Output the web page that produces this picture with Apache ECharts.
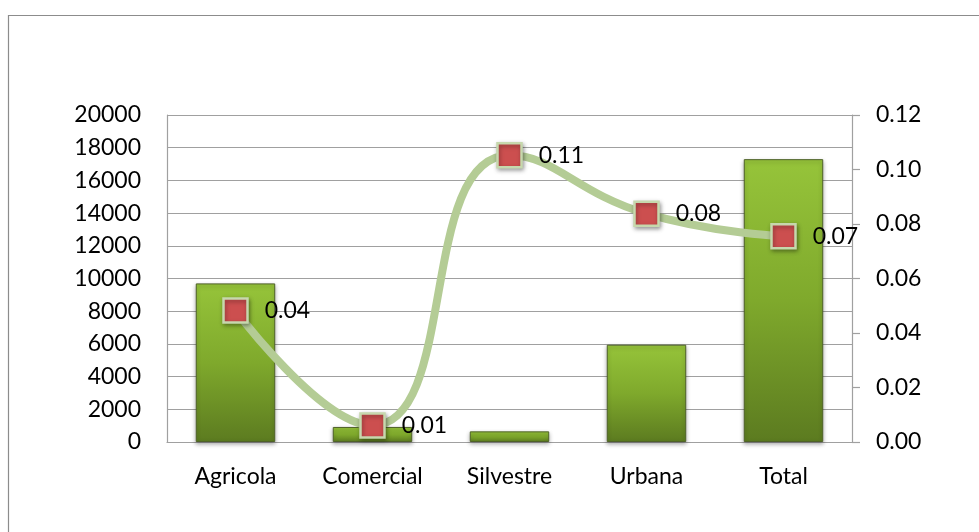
<!DOCTYPE html>
<html>
<head>
<meta charset="utf-8">
<script src="https://cdn.jsdelivr.net/npm/echarts@6/dist/echarts.min.js"></script>
<style>
html,body{margin:0;padding:0;background:#fff;}
#c{width:979px;height:532px;}
</style>
</head>
<body>
<div id="c"></div>
<script>
const categories = ['Agricola', 'Comercial', 'Silvestre', 'Urbana', 'Total'];
const barValues = [9700, 920, 650, 5950, 17300];
const lineValues = [0.0483, 0.0061, 0.1052, 0.0838, 0.0755];
const lineLabels = ['0.04', '0.01', '0.11', '0.08', '0.07'];
const leftTicks = { min: 0, max: 20000, interval: 2000 };
const rightTicks = { min: 0, max: 0.12, interval: 0.02 };

const font = 'Lato, "Open Sans", sans-serif';
const chart = echarts.init(document.getElementById('c'));
chart.setOption({
  animation: false,
  backgroundColor: '#fff',
  graphic: [{
    type: 'rect', left: 6, top: 13, silent: true,
    shape: { width: 1000, height: 600 },
    style: { fill: 'none', stroke: '#8c8c8c', lineWidth: 1.2 }
  }],
  grid: { left: 167, right: 127, top: 115, bottom: 90 },
  xAxis: {
    type: 'category',
    data: categories,
    axisLine: { lineStyle: { color: '#a0a0a0', width: 1.2 } },
    axisTick: { show: false },
    axisLabel: { color: '#000', fontSize: 23, fontFamily: font, margin: 23 }
  },
  yAxis: [{
    type: 'value',
    min: leftTicks.min, max: leftTicks.max, interval: leftTicks.interval,
    axisLine: { show: true, lineStyle: { color: '#a0a0a0', width: 1.2 } },
    axisTick: { show: false },
    splitLine: { lineStyle: { color: '#a0a0a0', width: 1.2 } },
    axisLabel: { color: '#000', fontSize: 23, fontFamily: font, margin: 26,
      formatter: v => String(v) }
  }, {
    type: 'value',
    min: rightTicks.min, max: rightTicks.max, interval: rightTicks.interval,
    position: 'right',
    axisLine: { show: true, lineStyle: { color: '#a0a0a0', width: 1.2 } },
    axisTick: { show: true, length: 8, lineStyle: { color: '#a0a0a0', width: 1.2 } },
    splitLine: { show: false },
    axisLabel: { color: '#000', fontSize: 23, fontFamily: font, margin: 24,
      formatter: v => v.toFixed(2) }
  }],
  series: [{
    type: 'bar',
    data: barValues,
    barWidth: '58%',
    itemStyle: {
      color: {
        type: 'linear', x: 0, y: 0, x2: 0, y2: 1,
        colorStops: [
          { offset: 0, color: '#96c43a' },
          { offset: 0.5, color: '#7fa92c' },
          { offset: 1, color: '#5c7b20' }
        ]
      },
      borderColor: '#4f6228',
      borderWidth: 1,
      shadowColor: 'rgba(0,0,0,0.3)',
      shadowBlur: 4,
      shadowOffsetY: 2
    }
  }, {
    type: 'line',
    yAxisIndex: 1,
    data: lineValues,
    smooth: 0.5,
    symbol: 'rect',
    symbolSize: 24,
    lineStyle: { color: '#b4cc95', width: 8 },
    itemStyle: {
      color: '#cc4f4f',
      borderColor: '#c6d8ad',
      borderWidth: 2.5,
      shadowColor: 'rgba(0,0,0,0.35)',
      shadowBlur: 4,
      shadowOffsetX: 1,
      shadowOffsetY: 2
    },
    label: {
      show: true,
      position: 'right',
      distance: 16,
      color: '#000',
      fontSize: 23,
      fontFamily: font,
      formatter: p => lineLabels[p.dataIndex]
    },
    z: 5
  }]
});
</script>
</body>
</html>
